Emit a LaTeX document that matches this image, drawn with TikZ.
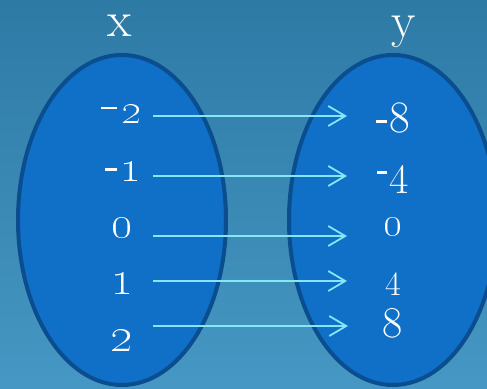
\documentclass[tikz,border=0pt]{standalone}
\usepackage{graphicx}
\usetikzlibrary{arrows.meta}
\definecolor{bgtop}{HTML}{2D7AA5}
\definecolor{bgbot}{HTML}{4697C3}
\definecolor{setfill}{HTML}{106FC6}
\definecolor{setdraw}{HTML}{0A4E90}
\definecolor{arrowc}{HTML}{84E6F6}
% dash: raise, length, thickness
\newcommand{\dsh}[2]{\raisebox{#1}{\rule{#2}{2.6pt}}}
\newcommand{\osn}[2]{\scalebox{#1}{\fontsize{24.88}{25}\selectfont\oldstylenums{#2}}}
\begin{document}
\begin{tikzpicture}[x=1pt,y=-1pt,
  setshape/.style={fill=setfill,draw=setdraw,line width=4pt},
  lbl/.style={text=white,inner sep=0pt,anchor=center},
  mapsto/.style={draw=arrowc,line width=1.8pt,-{Straight Barb[length=17pt,width=20pt,line width=1.8pt]}}]
\useasboundingbox (0,0) rectangle (487,388);
\shade[top color=bgtop,bottom color=bgbot] (0,0) rectangle (487,388);
\draw[setshape] (122,220) ellipse [x radius=104, y radius=165];
\draw[setshape] (393,220) ellipse [x radius=104, y radius=165];
\node[lbl,font=\fontsize{50}{50}\selectfont] (hx) at (120,26) {x};
\node[lbl,font=\fontsize{50}{50}\selectfont,anchor=base] (hy) at (404,37) {y};
% domain
\node[lbl] (l1) at (121,114) {\dsh{14pt}{16pt}\hspace{4pt}\osn{1.75}{2}};
\node[lbl] (l2) at (123,172) {\dsh{11pt}{12pt}\hspace{4pt}\osn{1.8}{1}};
\node[lbl] (l3) at (122,228) {\osn{1.85}{0}};
\node[lbl] (l4) at (122,284) {\osn{2.0}{1}};
\node[lbl] (l5) at (122,341) {\osn{2.0}{2}};
% range
\node[lbl,font=\fontsize{45}{45}\selectfont] (r1) at (393,118) {\dsh{9.5pt}{11pt}\hspace{3pt}8};
\node[lbl,font=\fontsize{42}{42}\selectfont] (r2) at (393,179) {\dsh{19pt}{10pt}\hspace{3pt}4};
\node[lbl] (r3) at (393,227) {\osn{1.65}{0}};
\node[lbl,font=\fontsize{34}{34}\selectfont] (r4) at (393,284) {4};
\node[lbl,font=\fontsize{44}{44}\selectfont] (r5) at (393,323) {8};
% arrow ends
\coordinate (s1) at (153,116); \coordinate (e1) at (347,116);
\coordinate (s2) at (153,176); \coordinate (e2) at (347,176);
\coordinate (s3) at (153,236); \coordinate (e3) at (347,236);
\coordinate (s4) at (153,281); \coordinate (e4) at (347,281);
\coordinate (s5) at (153,326); \coordinate (e5) at (348,326);
\foreach \i in {1,...,5} \draw[mapsto] (s\i) -- (e\i);
\end{tikzpicture}
\end{document}
